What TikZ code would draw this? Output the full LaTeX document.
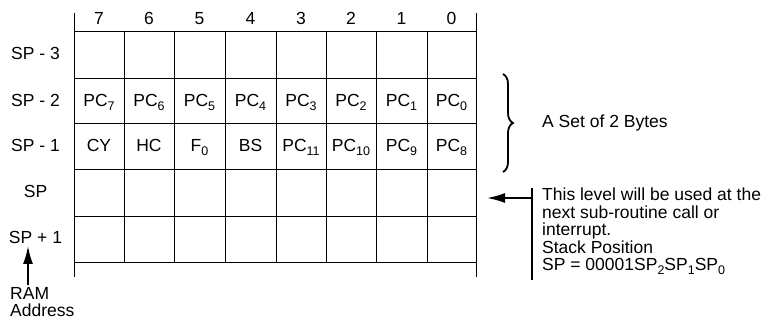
\documentclass[tikz,border=0pt]{standalone}
\usepackage{fontspec}
\setmainfont{Liberation Sans}
\usetikzlibrary{arrows.meta,decorations.pathreplacing}
\newcommand\subs[1]{\raisebox{-4pt}{\fontsize{12.5}{12.5}\selectfont #1}}
\begin{document}
\begin{tikzpicture}[x=1pt,y=-1pt,
  txt/.style={font=\fontsize{17.5}{17.5}\selectfont, inner sep=0pt, anchor=base},
  gridline/.style={line width=0.9pt},
  edgeline/.style={line width=1pt},
  arr/.style={line width=1.8pt, -{Latex[length=18pt,width=10pt]}},
  bar/.style={line width=1.8pt}]
\useasboundingbox (0,0) rectangle (779,320);
% grid
\foreach \y in {31,78,123,169,216,262}
  \draw[gridline] (74,\y) -- (476,\y);
\foreach \x in {124,174,225,276,326,376,427}
  \draw[gridline] (\x,31) -- (\x,262);
\draw[edgeline] (74,13) -- (74,277);
\draw[edgeline] (476,13) -- (476,277);
% header
\foreach \x/\b in {99/7,149/6,199.5/5,250.5/4,301/3,351/2,401.5/1,451.5/0}
  \node[txt] (h\b) at (\x,24.5) {\b};
% row labels
\node[txt] (lsp3) at (35.5,60) {SP - 3};
\node[txt] (lsp2) at (35.5,106.5) {SP - 2};
\node[txt] (lsp1) at (35.5,152) {SP - 1};
\node[txt] (lsp)  at (35.5,197.5) {SP};
\node[txt] (lspp) at (35.5,243.5) {SP + 1};
% row SP-2
\foreach \x/\b in {99/7,149/6,199.5/5,250.5/4,301/3,351/2,401.5/1,451.5/0}
  \node[txt] (pc\b) at (\x,106.5) {PC\subs{\b}};
% row SP-1
\node[txt] (cy) at (99,152) {CY};
\node[txt] (hc) at (149,152) {HC};
\node[txt] (f0) at (199.5,152) {F\subs{0}};
\node[txt] (bs) at (250.5,152) {BS};
\node[txt] (pc11) at (301,152) {PC\subs{11}};
\node[txt] (pc10) at (351,152) {PC\subs{10}};
\node[txt] (pc9) at (401.5,152) {PC\subs{9}};
\node[txt] (pc8) at (451.5,152) {PC\subs{8}};
% RAM address
\node[txt, anchor=north west, align=left] (ram) at (10,287) {RAM\\Address};
\coordinate (ramtail) at (28,285);
\coordinate (ramtip) at (28,246);
\draw[arr] (ramtail) -- (ramtip);
% brace
\coordinate (bt) at (503,74);
\coordinate (bb) at (503,172);
\draw[decorate, decoration={brace, amplitude=10pt}, line width=1.8pt] (bt) -- (bb);
\node[txt, anchor=west] (set) at (542,123) {A Set of 2 Bytes};
% note
\coordinate (bartop) at (532,188);
\coordinate (barbot) at (532,280);
\draw[bar] (bartop) -- (barbot);
\coordinate (arrtail) at (532,198);
\coordinate (arrtip) at (487,198);
\draw[arr] (arrtail) -- (arrtip);
\node[txt, anchor=north west, align=left] (note) at (542,188)
  {This level will be used at the\\next sub-routine call or\\interrupt.\\Stack Position\\SP = 00001SP\subs{2}SP\subs{1}SP\subs{0}};
\end{tikzpicture}
\end{document}
